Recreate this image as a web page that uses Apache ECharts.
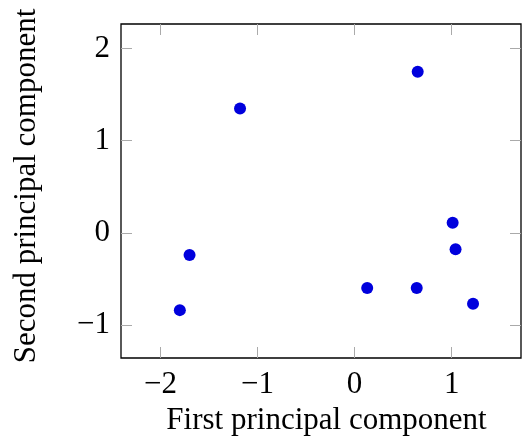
<!DOCTYPE html>
<html>
<head>
<meta charset="utf-8">
<script src="https://cdn.jsdelivr.net/npm/echarts@6/dist/echarts.min.js"></script>
<style>
  html, body { margin: 0; padding: 0; background: #fff; }
  #chart { width: 522px; height: 441px; }
</style>
</head>
<body>
<div id="chart"></div>
<script>
// scores on the first two principal components
const pc1 = [-1.18, 0.65, 1.01, -1.70, -1.80, 0.13, 0.64, 1.04, 1.22]
const pc2 = [1.35, 1.75, 0.11, -0.24, -0.84, -0.60, -0.60, -0.18, -0.77]
const xTicks = [-2, -1, 0, 1]
const yTicks = [-1, 0, 1, 2]

const font = '"Liberation Serif", "DejaVu Serif", serif'
const minus = v => String(v).replace('-', '\u2212')

const points = pc1.map((x, i) => [x, pc2[i]])

const chart = echarts.init(document.getElementById('chart'))

const tick = {
  inside: true,
  length: 11,
  lineStyle: { color: '#aaa', width: 1 }
}
const noLine = { show: false, onZero: false }

chart.setOption({
  animation: false,
  grid: {
    left: 121, right: 1, top: 24, bottom: 80,
    show: true, borderColor: '#000', borderWidth: 1.3
  },
  xAxis: [{
    type: 'value', position: 'bottom',
    min: -2.406, max: 1.714,
    name: 'First principal component',
    nameLocation: 'middle', nameGap: 47,
    nameTextStyle: { fontFamily: font, fontSize: 31, color: '#000', padding: [0, 0, 0, 11] },
    axisLine: noLine,
    axisTick: Object.assign({ customValues: xTicks }, tick),
    axisLabel: {
      customValues: xTicks, formatter: minus, margin: 11,
      fontFamily: font, fontSize: 31, color: '#000'
    },
    splitLine: { show: false }
  }, {
    type: 'value', position: 'top',
    min: -2.406, max: 1.714,
    axisLine: noLine,
    axisTick: Object.assign({ customValues: xTicks }, tick),
    axisLabel: { show: false },
    splitLine: { show: false }
  }],
  yAxis: [{
    type: 'value', position: 'left',
    min: -1.36, max: 2.268,
    name: 'Second principal component',
    nameLocation: 'middle', nameGap: 79,
    nameTextStyle: { fontFamily: font, fontSize: 31, color: '#000', padding: [0, 0, 0, 10] },
    axisLine: noLine,
    axisTick: Object.assign({ customValues: yTicks }, tick),
    axisLabel: {
      customValues: yTicks, formatter: minus, margin: 11,
      fontFamily: font, fontSize: 31, color: '#000'
    },
    splitLine: { show: false }
  }, {
    type: 'value', position: 'right',
    min: -1.36, max: 2.268,
    axisLine: noLine,
    axisTick: Object.assign({ customValues: yTicks }, tick),
    axisLabel: { show: false },
    splitLine: { show: false }
  }],
  series: [{
    type: 'scatter',
    data: points,
    symbolSize: 12,
    itemStyle: { color: '#0000dd', opacity: 1 }
  }]
})
</script>
</body>
</html>
